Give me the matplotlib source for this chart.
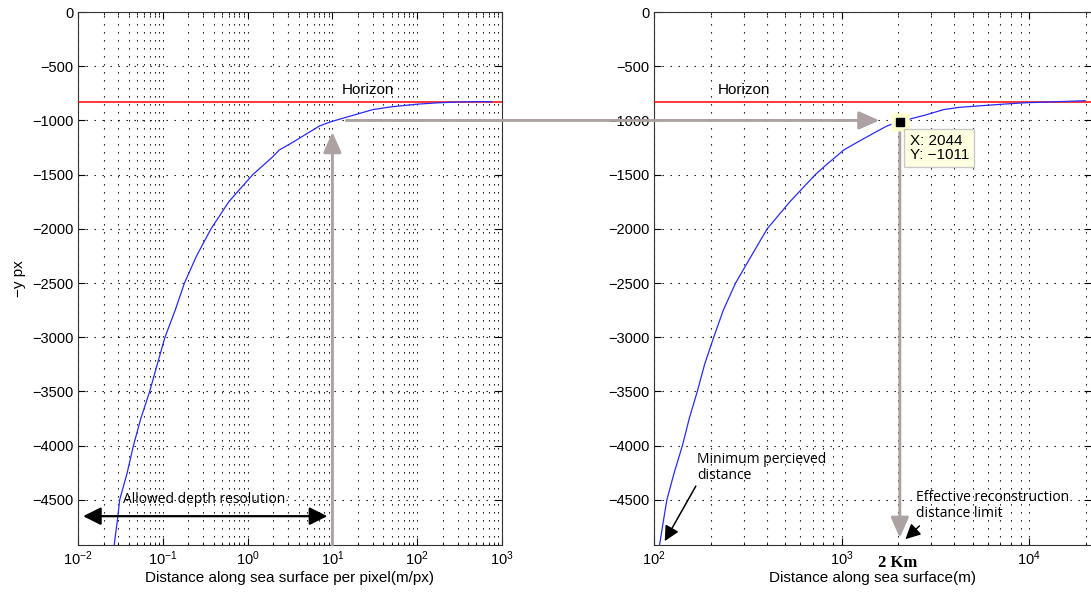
import matplotlib.pyplot as plt
import matplotlib.transforms as mtransforms
from matplotlib.patches import ConnectionPatch
from matplotlib.ticker import LogLocator, NullFormatter

plt.rcParams['font.family'] = ['Liberation Sans', 'DejaVu Sans']

# Values
# left panel: distance per pixel (m/px) vs -y px
res_x = [0.0267, 0.029, 0.031, 0.038, 0.045, 0.055, 0.070, 0.086, 0.106, 0.14, 0.18, 0.25,
         0.37, 0.6, 1.15, 1.6, 1.95, 2.36, 3.44, 5.07, 7.1, 9.7, 18, 30, 50, 100, 170, 300,
         550, 760]
res_y = [-4916, -4700, -4500, -4250, -4000, -3750, -3500, -3250, -3000, -2750, -2500, -2250,
         -2000, -1750, -1500, -1400, -1340, -1273, -1200, -1119, -1050, -1011, -950, -900,
         -874, -850, -838, -830, -826, -828]
# right panel: distance along sea surface (m) vs -y px
dist_x = [107, 112, 117, 128, 141.6, 154, 170, 186, 208, 234, 272, 330, 401, 530, 724,
          840, 925, 1026, 1216, 1477, 1750, 2044, 2800, 3500, 4250, 6000, 8000, 9550, 19900]
dist_y = [-4916, -4700, -4500, -4250, -4000, -3750, -3500, -3250, -3000, -2750, -2500, -2250,
          -2000, -1750, -1500, -1400, -1340, -1273, -1200, -1119, -1050, -1011, -950, -900,
          -879, -860, -845, -837, -818]

horizon_y = -830
tip_x, tip_y = 2044, -1011
y_ticks = [0, -500, -1000, -1500, -2000, -2500, -3000, -3500, -4000, -4500]
y_min = -4916

gray = '#aca2a2'
grid_kw = dict(color='black', linewidth=0.8, linestyle=(0, (1.2, 6)))
gray_arrow = dict(arrowstyle='-|>,head_length=0.95,head_width=0.42', color=gray,
                  linewidth=2.1, mutation_scale=13, shrinkA=0, shrinkB=0)

fig = plt.figure(figsize=(10.91, 5.98), dpi=100)
ax1 = fig.add_axes([0.0715, 0.0886, 0.3886, 0.8913])
ax2 = fig.add_axes([0.5995, 0.0886, 0.4005, 0.8913])

for ax in (ax1, ax2):
    ax.set_xscale('log')
    ax.set_ylim(y_min, 0)
    ax.set_yticks(y_ticks)
    ax.xaxis.set_minor_locator(LogLocator(base=10, subs=range(2, 10), numticks=20))
    ax.xaxis.set_minor_formatter(NullFormatter())
    ax.grid(True, which='major', axis='both', **grid_kw)
    ax.grid(True, which='minor', axis='x', **grid_kw)
    ax.tick_params(which='both', direction='in', top=True, right=True, labelsize=10.5)
    ax.tick_params(which='major', length=5)
    ax.tick_params(which='minor', length=2.5)
    for sp in ax.spines.values():
        sp.set_color('#333333')
    ax.axhline(horizon_y, color='red', linewidth=1.1, zorder=3)

ax2.spines['right'].set_visible(False)

# left panel
ax1.set_xlim(1e-2, 1e3)
ax1.plot(res_x, res_y, color='#2a2aff', linewidth=0.9, zorder=4)
ax1.text(12.8, -720, 'Horizon', fontsize=11, va='center', ha='left')
ax1.set_xlabel('Distance along sea surface per pixel(m/px)', fontsize=11, labelpad=2)
ax1.set_ylabel('\u2212y px', fontsize=11, labelpad=4)

ax1.annotate('', xy=(10, -1107), xytext=(10, y_min), arrowprops=gray_arrow, zorder=5)
ax1.annotate('', xy=(0.0115, -4650), xytext=(8.7, -4650),
             arrowprops=dict(arrowstyle='<|-|>,head_length=0.9,head_width=0.45',
                             color='black', linewidth=1.6, mutation_scale=12,
                             shrinkA=0, shrinkB=0), zorder=5)
ax1.text(0.31, -4500, 'Allowed depth resolution', fontsize=10, family='Open Sans',
         ha='center', va='center', zorder=6)

# right panel
ax2.set_xlim(100, 10 ** 4.33)
ax2.plot(dist_x, dist_y, color='#2a2aff', linewidth=0.9, zorder=4)
ax2.text(219, -720, 'Horizon', fontsize=11, va='center', ha='left')
ax2.set_xlabel('Distance along sea surface(m)', fontsize=11, labelpad=2)

trans = mtransforms.blended_transform_factory(ax2.transData, ax2.transAxes)
ax2.text(2000, -0.033, '2 Km', transform=trans, fontsize=12, fontweight='bold',
         family='Liberation Serif', ha='center', va='center')

ax2.annotate('', xy=(tip_x, -4850), xytext=(tip_x, -1070), arrowprops=gray_arrow, zorder=5)

ax2.plot([tip_x], [tip_y], marker='s', markersize=13, color='#ffffcc',
         markeredgecolor='none', zorder=7)
ax2.plot([tip_x], [tip_y], marker='s', markersize=6, color='black', zorder=8)
ax2.annotate('X: 2044\nY: \u22121011', xy=(tip_x, tip_y), xytext=(7, -9),
             textcoords='offset points', ha='left', va='top', fontsize=11,
             linespacing=1.0, zorder=8,
             bbox=dict(boxstyle='square,pad=0.35', facecolor='#ffffe1', edgecolor='#c8c8c8'))

ax2.text(169, -4060, 'Minimum percieved\ndistance', fontsize=10, family='Open Sans',
         ha='left', va='top', linespacing=1.1, zorder=6)
ax2.annotate('', xy=(114, -4880), xytext=(167, -4373),
             arrowprops=dict(arrowstyle='-|>,head_length=0.9,head_width=0.45',
                             color='black', linewidth=1.1, mutation_scale=10,
                             shrinkA=0, shrinkB=0), zorder=6)
ax2.text(2506, -4410, 'Effective reconstruction\ndistance limit', fontsize=10,
         family='Open Sans', ha='left', va='top', linespacing=1.1, zorder=6)
ax2.annotate('', xy=(2190, -4862), xytext=(2600, -4740),
             arrowprops=dict(arrowstyle='-|>,head_length=0.9,head_width=0.45',
                             color='black', linewidth=1.1, mutation_scale=10,
                             shrinkA=0, shrinkB=0), zorder=6)

# gray arrow linking the two panels
con = ConnectionPatch(xyA=(14.6, -1000), coordsA=ax1.transData,
                      xyB=(1592, -1000), coordsB=ax2.transData, zorder=10, **gray_arrow)
fig.add_artist(con)

fig.savefig('out.png', dpi=100)
